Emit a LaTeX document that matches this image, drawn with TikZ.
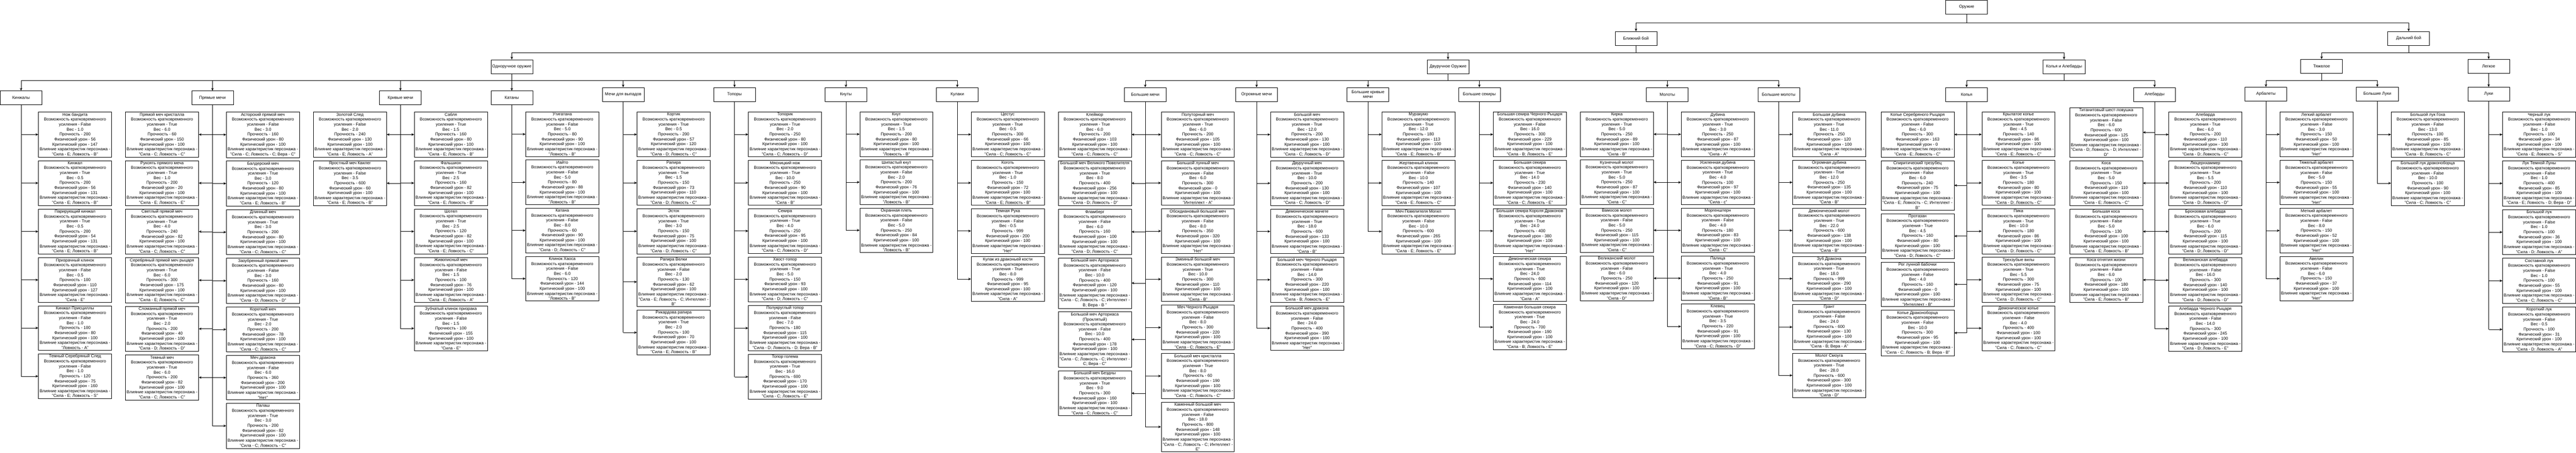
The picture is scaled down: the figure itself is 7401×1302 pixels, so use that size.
\documentclass[tikz,border=0pt]{standalone}
\usepackage{fontspec}
\setmainfont{Liberation Sans}
\usetikzlibrary{arrows.meta}
\usetikzlibrary{positioning}

\newcommand{\wfont}{\fontsize{12}{14.3}\selectfont}
\newcommand{\wpn}[7]{#1\\Возможность кратковременного\\усиления - #2\\Вес - #3\\Прочность - #4\\Физический урон - #5\\Критический урон - #6\\Влияние характеристик персонажа -\\"#7"}

\tikzset{
  grp/.style={draw, line width=1pt, minimum width=120pt, minimum height=40pt, inner sep=2pt, align=center, font=\wfont},
  leaf/.style={draw, line width=1pt, minimum width=210pt, inner xsep=2pt, inner ysep=2.5pt, align=center, font=\wfont},
  arr/.style={line width=1pt, -{Stealth[length=8pt,width=7pt,inset=2.5pt]}},
  trunk/.style={line width=1pt}
}

\begin{document}
\begin{tikzpicture}[x=1pt,y=-1pt]
    \fill[white] (0,0) rectangle (7401,1302);

    % Verkhnie urovni
    \node[grp] (root) at (5650,20) {Оружие};
    \node[grp] (blizh) at (4700,110) {Ближний бой};
    \node[grp] (dal) at (6920,110) {Дальний бой};
    \node[grp] (odn) at (1470,191) {Одноручное оружие};
    \node[grp] (dvu) at (4160,191) {Двуручное Оружие};
    \node[grp] (kolal) at (5930,191) {Колья и Алебарды};
    \node[grp] (tyazh) at (6670,190) {Тяжелое};
    \node[grp] (legk) at (7150,190) {Легкое};

    \draw[arr] (root.south) -- ++(0,25) -| (blizh.north);
    \draw[arr] (root.south) -- ++(0,25) -| (dal.north);
    \foreach \c in {odn,dvu,kolal}
        \draw[arr] (blizh.south) -- ++(0,21) -| (\c.north);
    \foreach \c in {tyazh,legk}
        \draw[arr] (dal.south) -- ++(0,20) -| (\c.north);

    % Gruppy
    \node[grp] (kinzh) at (60,281) {Кинжалы};
    \node[grp] (pryam) at (610,281) {Прямые мечи};
    \node[grp] (kriv) at (1150,281) {Кривые мечи};
    \node[grp] (kat) at (1470,281) {Катаны};
    \node[grp] (vyp) at (1790,271) {Мечи для выпадов};
    \node[grp] (topor) at (2110,271) {Топоры};
    \node[grp] (knut) at (2430,271) {Кнуты};
    \node[grp] (kulak) at (2750,271) {Кулаки};
    \node[grp] (bmech) at (3290,271) {Большие мечи};
    \node[grp] (ogr) at (3610,271) {Огромные мечи};
    \node[grp] (bkriv) at (3930,271) {Большие кривые\\мечи};
    \node[grp] (bsek) at (4250,271) {Большие секиры};
    \node[grp] (molot) at (4790,271) {Молоты};
    \node[grp] (bmol) at (5110,271) {Большие молоты};
    \node[grp] (kopya) at (5650,271) {Копья};
    \node[grp] (aleb) at (6190,271) {Алебарды};
    \node[grp] (arb) at (6510,270) {Арбалеты};
    \node[grp] (bluk) at (6830,270) {Большие Луки};
    \node[grp] (luki) at (7150,270) {Луки};

    \foreach \c in {kinzh,pryam,kriv,kat,vyp,topor,knut,kulak}
        \draw[arr] (odn.south) -- ++(0,20) -| (\c.north);
    \foreach \c in {bmech,ogr,bkriv,bsek,molot,bmol}
        \draw[arr] (dvu.south) -- ++(0,20) -| (\c.north);
    \foreach \c in {kopya,aleb}
        \draw[arr] (kolal.south) -- ++(0,20) -| (\c.north);
    \foreach \c in {arb,bluk}
        \draw[arr] (tyazh.south) -- ++(0,20) -| (\c.north);
    \draw[arr] (legk.south) -- (luki.north);

    % Кинжалы
    \node[leaf, anchor=north] (kin1) at (215,321) {\wpn{Нож бандита}{False}{1.0}{200}{56}{147}{Сила - E; Ловкость - B}};
    \node[leaf, below=9pt of kin1] (kin2) {\wpn{Кинжал}{True}{0.5}{200}{56}{131}{Сила - E; Ловкость - B}};
    \node[leaf, below=9pt of kin2] (kin3) {\wpn{Парирующий кинжал}{True}{0.5}{200}{54}{131}{Сила - E; Ловкость - B}};
    \node[leaf, below=9pt of kin3] (kin4) {\wpn{Призрачный клинок}{False}{0.5}{100}{110}{127}{Сила - E}};
    \node[leaf, below=9pt of kin4] (kin5) {\wpn{Кинжал Присциллы}{False}{1.0}{100}{80}{100}{Ловкость - A}};
    \node[leaf, below=9pt of kin5] (kin6) {\wpn{Темный Серебряный След}{False}{1.0}{120}{75}{160}{Сила - E; Ловкость - S}};
    \draw[trunk] (kinzh.south) -- (kin6.west -| kinzh.south);
    \foreach \i in {1,...,6}
        \draw[arr] (kin\i.west -| kinzh.south) -- (kin\i.west);

    % Прямые мечи
    \node[leaf, anchor=north] (pl1) at (465,321) {\wpn{Прямой меч кристалла}{True}{6.0}{60}{150}{100}{Сила - C; Ловкость - C}};
    \node[leaf, below=9pt of pl1] (pl2) {\wpn{Рукоять прямого меча}{True}{1.0}{200}{20}{100}{Сила - E; Ловкость - E}};
    \node[leaf, below=9pt of pl2] (pl3) {\wpn{Светлый прямой меч}{True}{4.0}{240}{82}{100}{Сила - C; Ловкость - C}};
    \node[leaf, below=9pt of pl3] (pl4) {\wpn{Серебряный прямой меч рыцаря}{True}{6.0}{300}{175}{100}{Сила - E; Ловкость - C}};
    \node[leaf, below=9pt of pl4] (pl5) {\wpn{Сломанный прямой меч}{True}{2.0}{200}{40}{100}{Сила - D; Ловкость - D}};
    \node[leaf, below=9pt of pl5] (pl6) {\wpn{Темный меч}{True}{6.0}{200}{82}{100}{Сила - C; Ловкость - C}};
    \node[leaf, anchor=north] (pr1) at (755,321) {\wpn{Асторский прямой меч}{False}{3.0}{160}{80}{100}{Сила - C; Ловкость - C; Вера - C}};
    \node[leaf, below=9pt of pr1] (pr2) {\wpn{Балдерский меч}{True}{3,0}{120}{80}{100}{Сила - E; Ловкость - B}};
    \node[leaf, below=9pt of pr2] (pr3) {\wpn{Длинный меч}{True}{3.0}{200}{80}{100}{Сила - C; Ловкость - C}};
    \node[leaf, below=9pt of pr3] (pr4) {\wpn{Зазубренный прямой меч}{False}{3.0}{160}{80}{100}{Сила - D; Ловкость - D}};
    \node[leaf, below=9pt of pr4] (pr5) {\wpn{Короткий меч}{True}{2.0}{200}{78}{100}{Сила - C; Ловкость - C}};
    \node[leaf, below=9pt of pr5] (pr6) {\wpn{Меч дракона}{False}{6.0}{360}{200}{100}{Нет}};
    \node[leaf, below=9pt of pr6] (pr7) {\wpn{Палаш}{True}{3,0}{200}{82}{100}{Сила - C; Ловкость - C}};
    \draw[trunk] (pryam.south) -- (pr7.west -| pryam.south);
    \foreach \i in {1,...,6}
        \draw[arr] (pl\i.east -| pryam.south) -- (pl\i.east);
    \foreach \i in {1,...,7}
        \draw[arr] (pr\i.west -| pryam.south) -- (pr\i.west);

    % Кривые мечи
    \node[leaf, anchor=north] (kl1) at (1005,321) {\wpn{Золотой След}{False}{2.0}{240}{130}{100}{Сила - E; Ловкость - A}};
    \node[leaf, below=9pt of kl1] (kl2) {\wpn{Яростный меч Квилег}{False}{3.5}{600}{60}{100}{Сила - E; Ловкость - B}};
    \node[leaf, anchor=north] (kr1) at (1295,321) {\wpn{Сабля}{True}{1.5}{160}{80}{100}{Сила - E; Ловкость - B}};
    \node[leaf, below=9pt of kr1] (kr2) {\wpn{Фальшион}{True}{2.5}{160}{82}{100}{Сила - E; Ловкость - B}};
    \node[leaf, below=9pt of kr2] (kr3) {\wpn{Шотел}{True}{2.5}{120}{82}{100}{Сила - E; Ловкость - C}};
    \node[leaf, below=9pt of kr3] (kr4) {\wpn{Живописный меч}{False}{1.5}{100}{76}{100}{Сила - E; Ловкость - A}};
    \node[leaf, below=9pt of kr4] (kr5) {\wpn{Зубчатый клинок призрака}{False}{1.5}{100}{155}{100}{Сила - E}};
    \draw[trunk] (kriv.south) -- (kr5.west -| kriv.south);
    \foreach \i in {1,2}
        \draw[arr] (kl\i.east -| kriv.south) -- (kl\i.east);
    \foreach \i in {1,...,5}
        \draw[arr] (kr\i.west -| kriv.south) -- (kr\i.west);

    % Катаны
    \node[leaf, anchor=north] (kt1) at (1615,321) {\wpn{Утигатана}{False}{5.0}{80}{90}{100}{Ловкость - B}};
    \node[leaf, below=9pt of kt1] (kt2) {\wpn{Иайто}{False}{5.0}{80}{88}{100}{Ловкость - B}};
    \node[leaf, below=9pt of kt2] (kt3) {\wpn{Катана}{False}{8.0}{60}{90}{100}{Сила - D; Ловкость - C}};
    \node[leaf, below=9pt of kt3] (kt4) {\wpn{Клинок Хаоса}{False}{6.0}{120}{144}{100}{Ловкость - B}};
    \draw[trunk] (kat.south) -- (kt4.west -| kat.south);
    \foreach \i in {1,...,4}
        \draw[arr] (kt\i.west -| kat.south) -- (kt\i.west);

    % Мечи для выпадов
    \node[leaf, anchor=north] (vy1) at (1935,321) {\wpn{Кортик}{True}{0.5}{200}{57}{120}{Сила - D; Ловкость - C}};
    \node[leaf, below=9pt of vy1] (vy2) {\wpn{Рапира}{True}{1.5}{150}{73}{110}{Сила - D; Ловкость - C}};
    \node[leaf, below=9pt of vy2] (vy3) {\wpn{Эсток}{True}{3.0}{150}{75}{100}{Сила - D; Ловкость - C}};
    \node[leaf, below=9pt of vy3] (vy4) {\wpn{Рапира Велки}{False}{2.0}{130}{62}{100}{Сила - E; Ловкость - C; Интеллект -\\B}};
    \node[leaf, below=9pt of vy4] (vy5) {\wpn{Рикардова рапира}{True}{2.0}{100}{70}{100}{Сила - E; Ловкость - B}};
    \draw[trunk] (vyp.south) -- (vy5.west -| vyp.south);
    \foreach \i in {1,...,5}
        \draw[arr] (vy\i.west -| vyp.south) -- (vy\i.west);

    % Топоры
    \node[leaf, anchor=north] (tp1) at (2255,321) {\wpn{Топорик}{True}{2.0}{250}{80}{100}{Сила - C; Ловкость - D}};
    \node[leaf, below=9pt of tp1] (tp2) {\wpn{Мясницкий нож}{True}{10.0}{250}{90}{100}{Сила - B}};
    \node[leaf, below=9pt of tp2] (tp3) {\wpn{Секира}{True}{4.0}{250}{95}{100}{Сила - C; Ловкость - D}};
    \node[leaf, below=9pt of tp3] (tp4) {\wpn{Хвост-топор}{True}{5.0}{150}{93}{100}{Сила - D; Ловкость - C}};
    \node[leaf, below=9pt of tp4] (tp5) {\wpn{Полукруглый топор}{False}{7.0}{180}{115}{100}{Сила - D; Ловкость - D; Вера - B}};
    \node[leaf, below=9pt of tp5] (tp6) {\wpn{Топор голема}{True}{16.0}{600}{170}{100}{Сила - C; Ловкость - E}};
    \draw[trunk] (topor.south) -- (tp6.west -| topor.south);
    \foreach \i in {1,...,6}
        \draw[arr] (tp\i.west -| topor.south) -- (tp\i.west);

    % Кнуты
    \node[leaf, anchor=north] (kn1) at (2575,321) {\wpn{Кнут}{True}{1.5}{200}{80}{100}{Ловкость - B}};
    \node[leaf, below=9pt of kn1] (kn2) {\wpn{Шипастый кнут}{False}{2.0}{200}{76}{100}{Ловкость - B}};
    \node[leaf, below=9pt of kn2] (kn3) {\wpn{Охранная плеть}{False}{5.0}{250}{84}{100}{Ловкость - B}};
    \draw[trunk] (knut.south) -- (kn3.west -| knut.south);
    \foreach \i in {1,2,3}
        \draw[arr] (kn\i.west -| knut.south) -- (kn\i.west);

    % Кулаки
    \node[leaf, anchor=north] (ku1) at (2895,321) {\wpn{Цестус}{True}{0.5}{300}{66}{100}{Сила - C; Ловкость - C}};
    \node[leaf, below=9pt of ku1] (ku2) {\wpn{Коготь}{True}{1.0}{150}{72}{100}{Сила - E; Ловкость - B}};
    \node[leaf, below=9pt of ku2] (ku3) {\wpn{Темная Рука}{False}{0.5}{999}{200}{100}{Нет}};
    \node[leaf, below=9pt of ku3] (ku4) {\wpn{Кулак из драконьей кости}{True}{8.0}{999}{95}{100}{Сила - A}};
    \draw[trunk] (kulak.south) -- (ku4.west -| kulak.south);
    \foreach \i in {1,...,4}
        \draw[arr] (ku\i.west -| kulak.south) -- (ku\i.west);

    % Большие мечи
    \node[leaf, anchor=north] (bl1) at (3145,321) {\wpn{Клеймор}{True}{6.0}{200}{103}{100}{Сила - C; Ловкость - C}};
    \node[leaf, below=9pt of bl1] (bl2) {\wpn{Большой меч Великого Повелителя}{True}{8.0}{400}{256}{100}{Сила - D; Ловкость - D}};
    \node[leaf, below=9pt of bl2] (bl3) {\wpn{Фламберг}{False}{6.0}{160}{100}{100}{Сила - D; Ловкость - C}};
    \node[leaf, below=9pt of bl3] (bl4) {\wpn{Большой меч Арториаса}{False}{10.0}{400}{120}{100}{Сила - C; Ловкость - C; Интеллект -\\B; Вера - B }};
    \node[leaf, below=9pt of bl4] (bl5) {\wpn{Большой меч Арториаса\\(Проклятый)}{False}{10.0}{400}{178}{100}{Сила - C; Ловкость - C; Интеллект -\\C; Вера - C}};
    \node[leaf, below=9pt of bl5] (bl6) {\wpn{Большой меч Бездны}{True}{9.0}{300}{160}{100}{Сила - C; Ловкость - C}};
    \node[leaf, anchor=north] (br1) at (3441,321) {\wpn{Полуторный меч}{True}{6.0}{200}{105}{100}{Сила - C; Ловкость - C}};
    \node[leaf, below=9pt of br1] (br2) {\wpn{Большой лунный меч}{False}{6.0}{300}{0}{100}{Интеллект - A}};
    \node[leaf, below=9pt of br2] (br3) {\wpn{Обсидиановый большой меч}{False}{8.0}{350}{320}{100}{Нет}};
    \node[leaf, below=9pt of br3] (br4) {\wpn{Змеиный большой меч}{True}{10.0}{300}{110}{100}{Сила - B}};
    \node[leaf, below=9pt of br4] (br5) {\wpn{Меч Черного Рыцаря}{False}{8.0}{300}{220}{100}{Сила - C; Ловкость - E}};
    \node[leaf, below=9pt of br5] (br6) {\wpn{Большой меч кристалла}{True}{8.0}{60}{190}{100}{Сила - C; Ловкость - C}};
    \node[leaf, below=9pt of br6] (br7) {\wpn{Каменный большой меч}{False}{18.0}{800}{148}{100}{Сила - C; Ловкость - C; Интеллект -\\E}};
    \draw[trunk] (bmech.south) -- (br7.west -| bmech.south);
    \foreach \i in {1,...,6}
        \draw[arr] (bl\i.east -| bmech.south) -- (bl\i.east);
    \foreach \i in {1,...,7}
        \draw[arr] (br\i.west -| bmech.south) -- (br\i.west);

    % Огромные мечи
    \node[leaf, anchor=north] (og1) at (3755,321) {\wpn{Большой меч}{True}{12.0}{200}{130}{100}{Сила - C; Ловкость - D}};
    \node[leaf, below=9pt of og1] (og2) {\wpn{Двуручный меч}{True}{10.0}{200}{130}{100}{Сила - C; Ловкость - D}};
    \node[leaf, below=9pt of og2] (og3) {\wpn{Демоническое мачете}{True}{18.0}{600}{133}{100}{Сила - B}};
    \node[leaf, below=9pt of og3] (og4) {\wpn{Большой меч Черного Рыцаря}{False}{14.0}{300}{220}{100}{Сила - B; Ловкость - E}};
    \node[leaf, below=9pt of og4] (og5) {\wpn{Большой меч дракона}{False}{24.0}{400}{390}{100}{Нет}};
    \draw[trunk] (ogr.south) -- (og5.west -| ogr.south);
    \foreach \i in {1,...,5}
        \draw[arr] (og\i.west -| ogr.south) -- (og\i.west);

    % Большие кривые мечи
    \node[leaf, anchor=north] (bk1) at (4075,321) {\wpn{Муракумо}{True}{12.0}{180}{113}{100}{Сила - E; Ловкость - B}};
    \node[leaf, below=9pt of bk1] (bk2) {\wpn{Жертвенный клинок}{False}{10.0}{140}{107}{100}{Сила - E; Ловкость - C}};
    \node[leaf, below=9pt of bk2] (bk3) {\wpn{Меч Повелителя Могил}{False}{10.0}{600}{265}{100}{Сила - E; Ловкость - E}};
    \draw[trunk] (bkriv.south) -- (bk3.west -| bkriv.south);
    \foreach \i in {1,2,3}
        \draw[arr] (bk\i.west -| bkriv.south) -- (bk\i.west);

    % Большие секиры
    \node[leaf, anchor=north] (bs1) at (4395,321) {\wpn{Большая секира Черного Рыцаря}{False}{16.0}{300}{229}{100}{Сила - B; Ловкость - E}};
    \node[leaf, below=9pt of bs1] (bs2) {\wpn{Большая секира}{True}{14.0}{230}{140}{100}{Сила - C; Ловкость - E}};
    \node[leaf, below=9pt of bs2] (bs3) {\wpn{Большая секира Короля Драконов}{True}{24.0}{400}{380}{100}{Нет}};
    \node[leaf, below=9pt of bs3] (bs4) {\wpn{Демоническая секира}{True}{24,0}{600}{114}{100}{Сила - A}};
    \node[leaf, below=9pt of bs4] (bs5) {\wpn{Каменная большая секира}{True}{24.0}{700}{190}{100}{Сила - B; Ловкость - E}};
    \draw[trunk] (bsek.south) -- (bs5.west -| bsek.south);
    \foreach \i in {1,...,5}
        \draw[arr] (bs\i.west -| bsek.south) -- (bs\i.west);

    % Молоты
    \node[leaf, anchor=north] (ml1) at (4645,321) {\wpn{Кирка}{True}{5.0}{250}{89}{100}{Сила - B}};
    \node[leaf, below=9pt of ml1] (ml2) {\wpn{Кузнечный молот}{True}{5.0}{250}{87}{100}{Сила - C}};
    \node[leaf, below=9pt of ml2] (ml3) {\wpn{Вамосов молот}{False}{5.0}{250}{115}{100}{Сила - C}};
    \node[leaf, below=9pt of ml3] (ml4) {\wpn{Великанский молот}{False}{6.0}{250}{120}{100}{Сила - D}};
    \node[leaf, anchor=north] (mr1) at (4935,321) {\wpn{Дубина}{True}{3.0}{250}{87}{100}{Сила - A}};
    \node[leaf, below=9pt of mr1] (mr2) {\wpn{Усиленная дубина}{True}{4.0}{100}{97}{100}{Сила - c}};
    \node[leaf, below=9pt of mr2] (mr3) {\wpn{Моргенштерн}{False}{4.0}{180}{83}{100}{Сила - C}};
    \node[leaf, below=9pt of mr3] (mr4) {\wpn{Палица}{True}{4.0}{250}{91}{100}{Сила - B}};
    \node[leaf, below=9pt of mr4] (mr5) {\wpn{Клевец}{True}{3.5}{220}{91}{100}{Сила - C; Ловкость - D}};
    \draw[trunk] (molot.south) -- (mr5.west -| molot.south);
    \foreach \i in {1,...,4}
        \draw[arr] (ml\i.east -| molot.south) -- (ml\i.east);
    \foreach \i in {1,...,5}
        \draw[arr] (mr\i.west -| molot.south) -- (mr\i.west);

    % Большие молоты
    \node[leaf, anchor=north] (bm1) at (5255,321) {\wpn{Большая дубина}{True}{11.0}{250}{120}{100}{Сила - A}};
    \node[leaf, below=9pt of bm1] (bm2) {\wpn{Огромная дубина}{True}{12.0}{250}{135}{100}{Сила - B}};
    \node[leaf, below=9pt of bm2] (bm3) {\wpn{Демонический молот}{True}{22.0}{600}{138}{100}{Сила - B}};
    \node[leaf, below=9pt of bm3] (bm4) {\wpn{Зуб Дракона}{True}{18.0}{999}{290}{100}{Сила - D}};
    \node[leaf, below=9pt of bm4] (bm5) {\wpn{Грант}{False}{24.0}{600}{130}{100}{Сила - B; Вера - A}};
    \node[leaf, below=9pt of bm5] (bm6) {\wpn{Молот Смоуга}{True}{28.0}{600}{300}{100}{Сила - D}};
    \draw[trunk] (bmol.south) -- (bm6.west -| bmol.south);
    \foreach \i in {1,...,6}
        \draw[arr] (bm\i.west -| bmol.south) -- (bm\i.west);

    % Копья
    \node[leaf, anchor=north] (cl1) at (5509,321) {\wpn{Копье Серебряного Рыцаря}{False}{6.0}{300}{163}{0}{Сила - E; Ловкость - C}};
    \node[leaf, below=9pt of cl1] (cl2) {\wpn{Спиритический трезубец}{False}{6.0}{240}{75}{100}{Сила - E; Ловкость - C; Интеллект -\\B}};
    \node[leaf, below=9pt of cl2] (cl3) {\wpn{Протазан}{True}{4.5}{160}{80}{100}{Сила - D; Ловкость - C}};
    \node[leaf, below=9pt of cl3] (cl4) {\wpn{Рог лунной бабочки}{False}{4.0}{160}{0}{100}{Интеллект - B}};
    \node[leaf, below=9pt of cl4] (cl5) {\wpn{Копье Драконоборца}{False}{10.0}{300}{95}{100}{Сила - C; Ловкость - B; Вера - B}};
    \node[leaf, anchor=north] (cr1) at (5799,321) {\wpn{Крылатое копье}{True}{4.5}{140}{86}{100}{Сила - E; Ловкость - C}};
    \node[leaf, below=9pt of cr1] (cr2) {\wpn{Копье}{True}{3.5}{180}{80}{100}{Сила - D; Ловкость - C}};
    \node[leaf, below=9pt of cr2] (cr3) {\wpn{Пика}{True}{10.0}{180}{86}{100}{Сила - D; Ловкость - C}};
    \node[leaf, below=9pt of cr3] (cr4) {\wpn{Трехзубые вилы}{True}{5.5}{300}{75}{100}{Сила - D; Ловкость - C}};
    \node[leaf, below=9pt of cr4] (cr5) {\wpn{Демоническое копье}{False}{4.0}{400}{100}{100}{Сила - C; Ловкость - C}};
    \draw[trunk] (kopya.south) -- (cl5.east -| kopya.south);
    \draw[trunk] (kopya.south) -- (cr5.west -| kopya.south);
    \foreach \i in {1,...,5}
        \draw[arr] (cl\i.east -| kopya.south) -- (cl\i.east);
    \foreach \i in {1,...,5}
        \draw[arr] (cr\i.west -| kopya.south) -- (cr\i.west);

    % Алебарды
    \node[leaf, anchor=south] (al1) at (6051,452) {\wpn{Титанитовый шест-ловушка}{False}{6.0}{600}{125}{100}{Сила - D; Ловкость - D; Интеллект -\\D}};
    \node[leaf, below=9pt of al1] (al2) {\wpn{Коса}{True}{5.0}{150}{110}{100}{Сила - E; Ловкость - C}};
    \node[leaf, below=9pt of al2] (al3) {\wpn{Большая коса}{False}{5.0}{130}{100}{100}{Сила - E; Ловкость - B}};
    \node[leaf, below=9pt of al3] (al4) {\wpn{Коса отнятия жизни}{False}{6.0}{100}{180}{100}{Сила - E; Ловкость - B}};
    \node[leaf, anchor=north] (ar1) at (6336,321) {\wpn{Алебарда}{True}{6.0}{200}{110}{100}{Сила - D; Ловкость - C}};
    \node[leaf, below=9pt of ar1] (ar2) {\wpn{Люцернхаммер}{True}{5.5}{200}{110}{100}{Сила - D; Ловкость - D}};
    \node[leaf, below=9pt of ar2] (ar3) {\wpn{Бронзовая алебарда}{True}{6.0}{200}{115}{100}{Сила - D; Ловкость - D}};
    \node[leaf, below=9pt of ar3] (ar4) {\wpn{Великанская алебарда}{False}{16.0}{300}{140}{100}{Сила - D; Ловкость - D}};
    \node[leaf, below=9pt of ar4] (ar5) {\wpn{Алебарда Черного Рыцаря}{False}{14.0}{300}{245}{100}{Сила - D; Ловкость - E}};
    \draw[trunk] (aleb.south) -- (ar5.west -| aleb.south);
    \foreach \i in {1,...,4}
        \draw[arr] (al\i.east -| aleb.south) -- (al\i.east);
    \foreach \i in {1,...,5}
        \draw[arr] (ar\i.west -| aleb.south) -- (ar\i.west);

    % Арбалеты
    \node[leaf, anchor=north] (ab1) at (6655,321) {\wpn{Легкий арбалет}{False}{3.0}{150}{50}{100}{Нет}};
    \node[leaf, below=9pt of ab1] (ab2) {\wpn{Тяжелый арбалет}{False}{5.0}{150}{55}{100}{Нет}};
    \node[leaf, below=9pt of ab2] (ab3) {\wpn{Меткий арбалет}{False}{8.0}{150}{52}{100}{Нет}};
    \node[leaf, below=9pt of ab3] (ab4) {\wpn{Авелин}{False}{6.0}{150}{37}{100}{Нет}};
    \draw[trunk] (arb.south) -- (ab4.west -| arb.south);
    \foreach \i in {1,...,4}
        \draw[arr] (ab\i.west -| arb.south) -- (ab\i.west);

    % Большие Луки
    \node[leaf, anchor=north] (bu1) at (6975,321) {\wpn{Большой лук Гоха}{False}{13.0}{100}{85}{100}{Сила - B; Ловкость - C}};
    \node[leaf, below=9pt of bu1] (bu2) {\wpn{Большой лук драконоборца}{False}{10.0}{100}{90}{100}{Сила - C; Ловкость - C}};
    \draw[trunk] (bluk.south) -- (bu2.west -| bluk.south);
    \foreach \i in {1,2}
        \draw[arr] (bu\i.west -| bluk.south) -- (bu\i.west);

    % Луки
    \node[leaf, anchor=north] (lu1) at (7295,321) {\wpn{Черный лук}{False}{1.0}{100}{34}{100}{Сила - E; Ловкость - S}};
    \node[leaf, below=9pt of lu1] (lu2) {\wpn{Лук Темной Луны}{False}{1.0}{400}{85}{100}{Сила - E; Ловкость - D; Вера - D}};
    \node[leaf, below=9pt of lu2] (lu3) {\wpn{Большой лук}{False}{1.0}{100}{36}{100}{Сила - D; Ловкость - A}};
    \node[leaf, below=9pt of lu3] (lu4) {\wpn{Составной лук}{False}{1.0}{100}{55}{100}{Сила - C; Ловкость - C}};
    \node[leaf, below=9pt of lu4] (lu5) {\wpn{Короткий лук}{False}{0.5}{100}{31}{100}{Сила - D; Ловкость - A}};
    \draw[trunk] (luki.south) -- (lu5.west -| luki.south);
    \foreach \i in {1,...,5}
        \draw[arr] (lu\i.west -| luki.south) -- (lu\i.west);
\end{tikzpicture}
\end{document}
